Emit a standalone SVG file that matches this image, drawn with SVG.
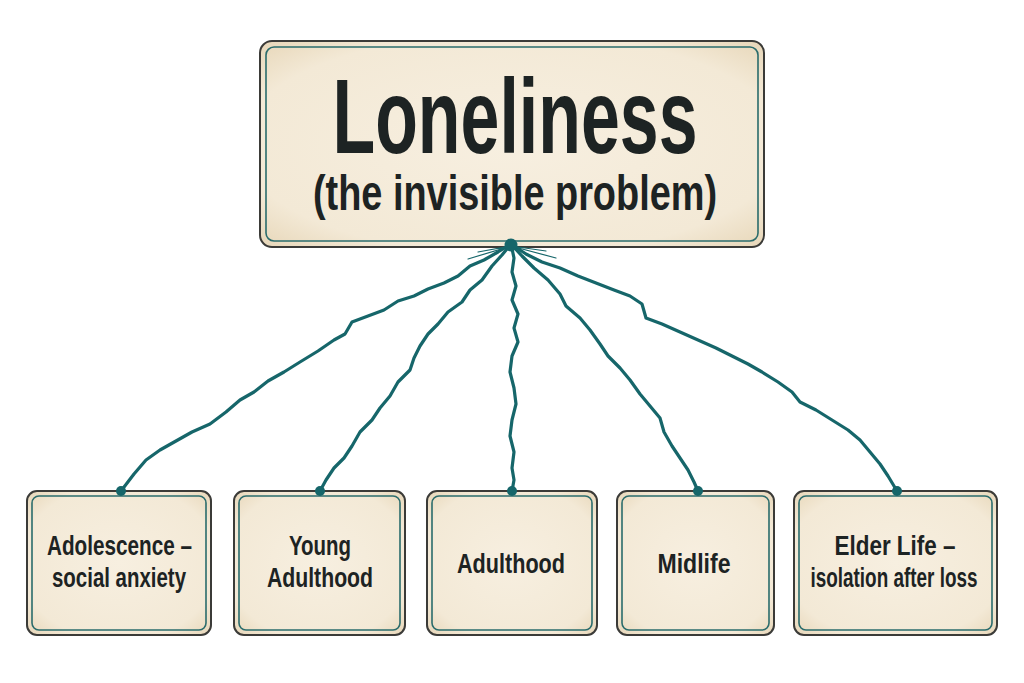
<svg xmlns="http://www.w3.org/2000/svg" width="1024" height="683" viewBox="0 0 1024 683">
<defs>
<radialGradient id="paper" cx="50%" cy="50%" r="72%">
<stop offset="0" stop-color="#f7efe0"/>
<stop offset="0.75" stop-color="#f3e9d6"/>
<stop offset="1" stop-color="#e6d5b6"/>
</radialGradient>
<style>
.outer{fill:url(#paper);stroke:#3b3b38;stroke-width:2}
.inner{fill:none;stroke:#2a6c6c;stroke-width:1.6}
.t{font-family:"Liberation Sans",Arial,sans-serif;font-weight:bold;fill:#1d2323;text-anchor:middle}
.lbl{font-size:28px}
.wire{fill:none;stroke:#16666a;stroke-width:3.2;stroke-linejoin:round;stroke-linecap:round}
.dot{fill:#16666a}
</style>
</defs>
<rect width="1024" height="683" fill="#ffffff"/>

<g id="node-loneliness">
<rect class="outer" x="260" y="41" width="504" height="206" rx="12"/>
<rect class="inner" x="266" y="47" width="492" height="194" rx="8"/>
<text class="t" x="515" y="153" font-size="105" textLength="365" lengthAdjust="spacingAndGlyphs">Loneliness</text>
<text class="t" x="515" y="210" font-size="50" textLength="404" lengthAdjust="spacingAndGlyphs">(the invisible problem)</text>
</g>

<g id="node-adolescence">
<rect class="outer" x="27" y="491" width="184" height="144" rx="10"/>
<rect class="inner" x="32" y="496" width="174" height="134" rx="7"/>
<text class="t lbl" x="119.5" y="555" textLength="145" lengthAdjust="spacingAndGlyphs">Adolescence –</text>
<text class="t lbl" x="119" y="587" textLength="134" lengthAdjust="spacingAndGlyphs">social anxiety</text>
</g>

<g id="node-young-adulthood">
<rect class="outer" x="234" y="491" width="171" height="144" rx="10"/>
<rect class="inner" x="239" y="496" width="161" height="134" rx="7"/>
<text class="t lbl" x="320" y="555" textLength="62" lengthAdjust="spacingAndGlyphs">Young</text>
<text class="t lbl" x="320" y="587" textLength="106" lengthAdjust="spacingAndGlyphs">Adulthood</text>
</g>

<g id="node-adulthood">
<rect class="outer" x="427" y="491" width="170" height="144" rx="10"/>
<rect class="inner" x="432" y="496" width="160" height="134" rx="7"/>
<text class="t lbl" x="511" y="573" textLength="108" lengthAdjust="spacingAndGlyphs">Adulthood</text>
</g>

<g id="node-midlife">
<rect class="outer" x="617" y="491" width="157" height="144" rx="10"/>
<rect class="inner" x="622" y="496" width="147" height="134" rx="7"/>
<text class="t lbl" x="694" y="573" textLength="73" lengthAdjust="spacingAndGlyphs">Midlife</text>
</g>

<g id="node-elder-life">
<rect class="outer" x="794" y="491" width="203" height="144" rx="10"/>
<rect class="inner" x="799" y="496" width="193" height="134" rx="7"/>
<text class="t lbl" x="895" y="555" textLength="121" lengthAdjust="spacingAndGlyphs">Elder Life –</text>
<text class="t lbl" x="894" y="587" textLength="167" lengthAdjust="spacingAndGlyphs">isolation after loss</text>
</g>

<g id="connectors">
<path class="wire" d="M511,244 L498,252 L484,260 L470,266 L458,276 L444,283 L428,289 L414,296 L398,301 L384,310 L368,316 L352,322 L345,334 L334,340 L318,351 L300,362 L284,372 L268,381 L254,392 L240,400 L226,412 L210,424 L192,432 L176,441 L160,450 L146,460 L134,474 L121,491"/>
<path class="wire" d="M511,244 L502,255 L492,266 L482,280 L470,290 L462,302 L448,312 L438,324 L428,334 L420,346 L414,358 L410,370 L398,382 L390,396 L380,408 L372,420 L360,432 L352,446 L344,458 L334,468 L326,480 L320,491"/>
<path class="wire" d="M511,244 L514,258 L512,272 L516,286 L512,300 L518,314 L514,328 L518,342 L512,356 L510,372 L514,388 L516,404 L512,420 L510,436 L514,452 L512,468 L514,480 L512,491"/>
<path class="wire" d="M511,244 L522,256 L534,268 L548,280 L560,294 L566,306 L580,318 L590,330 L600,344 L608,356 L620,368 L630,380 L640,394 L650,406 L660,418 L664,432 L672,446 L680,458 L688,470 L694,482 L698,491"/>
<path class="wire" d="M511,244 L526,254 L542,262 L560,268 L578,276 L596,283 L614,290 L630,296 L642,304 L646,318 L662,324 L680,332 L698,340 L716,348 L732,356 L748,364 L762,372 L778,382 L792,392 L800,402 L816,410 L832,420 L848,430 L860,440 L870,452 L880,464 L888,476 L897,491"/>
<path class="wire" style="stroke-width:1.2" d="M511,246 L478,252 M511,246 L546,251 M511,246 L468,259 M511,246 L556,258"/>
<circle class="dot" cx="511" cy="245" r="6.5"/>
<circle class="dot" cx="121" cy="491" r="5"/>
<circle class="dot" cx="320" cy="491" r="5"/>
<circle class="dot" cx="512" cy="491" r="5"/>
<circle class="dot" cx="698" cy="491" r="5"/>
<circle class="dot" cx="897" cy="491" r="5"/>
</g>
</svg>
